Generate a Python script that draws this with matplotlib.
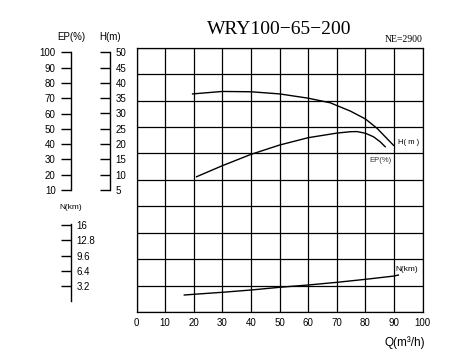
import matplotlib
matplotlib.use("Agg")
import matplotlib.pyplot as plt

plt.rcParams["font.family"] = ["Liberation Sans", "DejaVu Sans"]

# pump curve data
q_h = [19.6, 30, 40, 50, 60, 67.7, 70, 74.7, 80, 84, 86.9, 89.8]
h_m = [36.4, 37.2, 37.1, 36.4, 35.0, 33.5, 32.6, 30.8, 28.2, 25.2, 22.4, 19.6]

q_ep = [21, 30, 40, 50, 60, 67.7, 70, 74.7, 77, 80, 82.8, 85.1, 86.9]
ep = [18.7, 25.9, 33.3, 39.4, 44.2, 46.5, 47.2, 48.1, 48.2, 47.1, 44.8, 41.6, 38.3]

q_n = [16.7, 20, 30, 40, 50, 60, 70, 80, 90, 91.5]
n_kw = [1.32, 1.47, 1.89, 2.37, 2.94, 3.42, 3.98, 4.61, 5.30, 5.51]

q_ticks = list(range(0, 101, 10))
ep_ticks = list(range(10, 101, 10))
h_ticks = list(range(5, 51, 5))
n_ticks = [3.2, 6.4, 9.6, 12.8, 16]
n_labels = ["3.2", "6.4", "9.6", "12.8", "16"]

W, H = 475, 358
fig = plt.figure(figsize=(W / 100, H / 100), dpi=100)

# grid area in pixels
x0, x1 = 136.5, 422.7
y_top, y_bot = 47.7, 312.0
rect = [x0 / W, (H - y_bot) / H, (x1 - x0) / W, (y_bot - y_top) / H]

# y ranges so each scale lines up with the drawn side axes
h_lim = (-34.87, 51.5)
ep_lim = (-69.7, 103.0)
n_lim = (-2.24, 53.17)

ax = fig.add_axes(rect)
ax.set_xlim(0, 100)
ax.set_ylim(0, 10)
ax.set_xticks(q_ticks)
ax.set_yticks(range(0, 11))
ax.grid(True, color="black", linewidth=0.9)
ax.tick_params(axis="x", length=0, labelsize=7, pad=4)
ax.tick_params(axis="y", length=0, labelleft=False)
for s in ax.spines.values():
    s.set_linewidth(0.9)
ax.text(1.01, -0.09, "Q(m³/h)", transform=ax.transAxes, ha="right", va="top", fontsize=8.5)

# curves on overlaid axes, one per scale
def overlay(lim):
    a = fig.add_axes(rect, frameon=False)
    a.set_xlim(0, 100)
    a.set_ylim(*lim)
    a.axis("off")
    return a

ax_h = overlay(h_lim)
ax_h.plot(q_h, h_m, color="black", linewidth=1.0)
ax_h.text(91.5, 20.5, "H( m )", fontsize=5.5, ha="left", va="center")

ax_ep = overlay(ep_lim)
ax_ep.plot(q_ep, ep, color="black", linewidth=1.0)
ax_ep.text(81.5, 29.5, "EP(%)", fontsize=5.5, ha="left", va="center", color="#333333")

ax_n = overlay(n_lim)
ax_n.plot(q_n, n_kw, color="black", linewidth=1.0)
ax_n.text(90.5, 6.7, "N(km)", fontsize=6, ha="left", va="center")

# side scales
def side_axis(xpix, lim):
    a = fig.add_axes([xpix / W, rect[1], 0.0001, rect[3]], frameon=True)
    a.set_ylim(*lim)
    a.set_xticks([])
    a.patch.set_visible(False)
    for s in ("top", "bottom"):
        a.spines[s].set_visible(False)
    return a

ax_eps = side_axis(71, ep_lim)
ax_eps.spines["right"].set_visible(False)
ax_eps.spines["left"].set_bounds(10, 100)
ax_eps.spines["left"].set_linewidth(1.0)
ax_eps.set_yticks(ep_ticks)
ax_eps.tick_params(axis="y", direction="out", length=7, width=1.0, labelsize=7, pad=4)
ax_eps.text(0, 106.5, "EP(%)", fontsize=7, ha="center", va="bottom",
            transform=ax_eps.get_yaxis_transform())

ax_hs = side_axis(110, h_lim)
ax_hs.spines["left"].set_visible(False)
ax_hs.spines["right"].set_bounds(5, 50)
ax_hs.spines["right"].set_linewidth(1.0)
ax_hs.yaxis.tick_right()
ax_hs.set_yticks(h_ticks)
ax_hs.tick_params(axis="y", direction="in", length=7, width=1.0, labelsize=7, pad=4)
ax_hs.text(0, 53.2, "H(m)", fontsize=7, ha="center", va="bottom",
           transform=ax_hs.get_yaxis_transform())

ax_ns = side_axis(71, n_lim)
ax_ns.spines["left"].set_visible(False)
ax_ns.spines["right"].set_bounds(0, 16.3)
ax_ns.spines["right"].set_linewidth(1.0)
ax_ns.yaxis.tick_right()
ax_ns.set_yticks(n_ticks)
ax_ns.set_yticklabels(n_labels)
ax_ns.tick_params(axis="y", direction="in", length=7, width=1.0, labelsize=7, pad=4)
ax_ns.text(0, 19.0, "N(km)", fontsize=6, ha="center", va="bottom",
           transform=ax_ns.get_yaxis_transform())

# title and speed note
fig.text((x0 + x1) / 2 / W, 1 - 29 / H, "WRY100\u221265\u2212200", family="Liberation Serif",
         fontsize=14, ha="center", va="center")
fig.text(x1 / W, 1 - 40 / H, "NE=2900", family="Liberation Serif",
         fontsize=7, ha="right", va="center")

fig.savefig("out.png", dpi=100)
